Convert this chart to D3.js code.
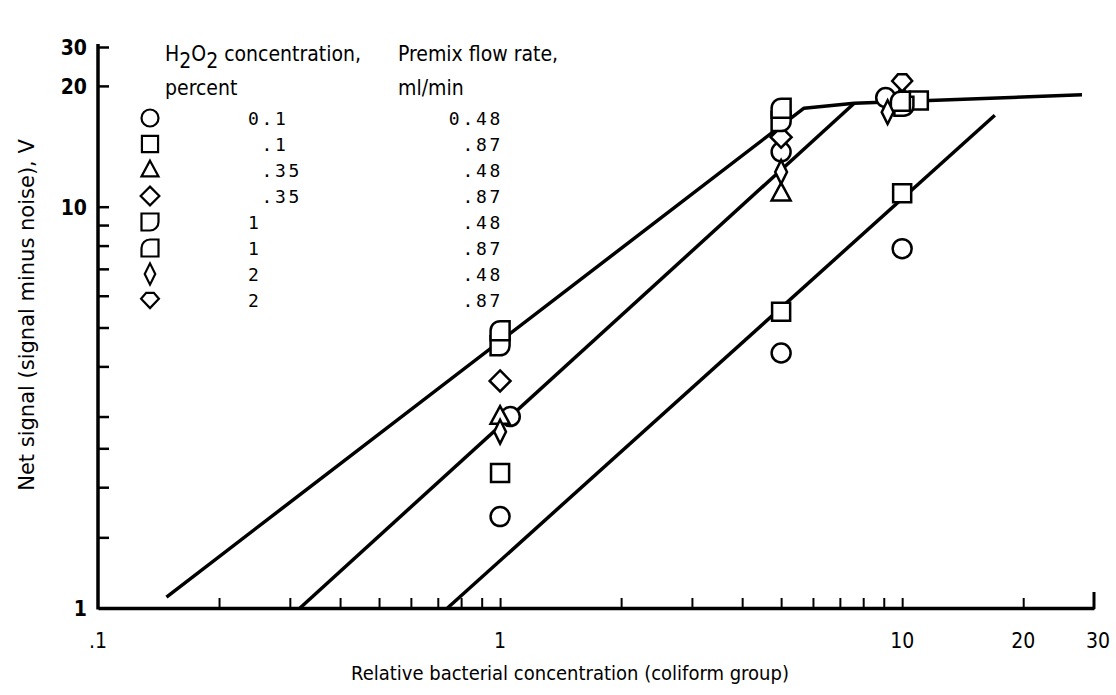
<!DOCTYPE html>
<html>
<head>
<meta charset="utf-8">
<script src="https://cdn.jsdelivr.net/npm/d3@7"></script>
<style>
body { margin: 0; background: #fff; }
</style>
</head>
<body>
<div id="chart-area"></div>
<script>
// legend rows: H2O2 concentration (percent) and premix flow rate (ml/min)
const concLabels = ["0.1", ".1", ".35", ".35", "1", "1", "2", "2"];
const flowLabels = ["0.48", ".87", ".48", ".87", ".48", ".87", ".48", ".87"];
const symbolNames = ["circle", "square", "triangle", "diamond", "dRight", "dLeft", "thinDiamond", "shield"];

// measured points [relative concentration, net signal V], one list per legend row
const circlePts = [[1.06, 3.0], [1.0, 1.69], [5.0, 13.7], [5.0, 4.32], [9.1, 18.7], [10, 7.86]];
const squarePts = [[1.0, 2.17], [5.0, 5.47], [10, 10.8], [11.0, 18.4]];
const trianglePts = [[1.0, 3.0], [5.0, 10.8], [10, 18.9]];
const diamondPts = [[1.0, 3.68], [5.0, 14.9]];
const dRightPts = [[1.0, 4.5], [5.0, 16.3], [10.1, 17.8]];
const dLeftPts = [[1.0, 4.91], [5.0, 17.6], [9.9, 18.3]];
const thinDiamondPts = [[1.0, 2.75], [5.0, 12.2], [9.2, 17.2]];
const shieldPts = [[10.0, 20.4]];
const seriesPoints = [circlePts, squarePts, trianglePts, diamondPts, dRightPts, dLeftPts, thinDiamondPts, shieldPts];

// faired curves
const lineA = [[0.148, 1.065], [5.7, 17.6], [7.6, 18.1], [28, 19.0]];
const lineB = [[0.318, 1.0], [7.6, 18.1]];
const lineC = [[0.74, 1.0], [17, 16.9]];

// axes
const xMinorTicks = [0.2, 0.3, 0.4, 0.5, 0.6, 0.7, 0.8, 0.9, 1, 2, 3, 4, 5, 6, 7, 8, 9, 10, 20];
const xLabelTicks = [0.1, 1, 10, 20, 30];
const xTickLabels = [".1", "1", "10", "20", "30"];
const yMinorTicks = [1.5, 2, 2.5, 3, 4, 5, 6, 7, 8, 9, 10, 20];
const yTop = 25; // the drawn axis stops here, its end tick is lettered "30"
const yLabelTicks = [1, 10, 20, yTop];
const yTickLabels = ["1", "10", "20", "30"];

const svgWidth = 1116, svgHeight = 695;

var svg = d3.select("#chart-area")
    .append("svg")
        .attr("width", svgWidth)
        .attr("height", svgHeight)
        .style("display", "block");

var x = d3.scaleLog().domain([0.1, 30]).range([98, 1094]);
var y = d3.scaleLog().domain([1, yTop]).range([608, 47]);

// x axis (ticks point up into the plot)
var xAxis = svg.append("g")
    .attr("transform", "translate(0," + y(1) + ")")
    .call(d3.axisBottom(x).tickValues(xMinorTicks).tickSizeInner(-10).tickSizeOuter(0).tickFormat(""));
xAxis.select(".domain").attr("stroke", "#000").attr("stroke-width", 3.5);
xAxis.selectAll(".tick line").attr("stroke", "#000").attr("stroke-width", 2);
// end tick at 30 is longer
xAxis.append("line")
    .attr("x1", x(30)).attr("x2", x(30))
    .attr("y1", 1).attr("y2", -16)
    .attr("stroke", "#000").attr("stroke-width", 3);

svg.append("g").selectAll("text")
    .data(xLabelTicks)
    .enter().append("text")
        .attr("x", function(d){ return x(d) + (d == 30 ? 4 : 0); })
        .attr("y", 648)
        .attr("text-anchor", "middle")
        .attr("font-family", "DejaVu Sans Condensed")
        .attr("font-size", "21px")
        .text(function(d, i){ return xTickLabels[i]; });

// y axis (ticks point right)
var yAxis = svg.append("g")
    .attr("transform", "translate(" + x(0.1) + ",0)")
    .call(d3.axisLeft(y).tickValues(yMinorTicks.concat([yTop])).tickSizeInner(-11).tickSizeOuter(0).tickFormat(""));
yAxis.select(".domain").attr("stroke", "#000").attr("stroke-width", 3.5)
    .attr("d", "M0," + (y(1) + 1.5) + "V" + (y(yTop) - 3));
yAxis.selectAll(".tick line").attr("stroke", "#000").attr("stroke-width", 2.5);

svg.append("g").selectAll("text")
    .data(yLabelTicks)
    .enter().append("text")
        .attr("x", 87)
        .attr("y", function(d){ return y(d) + 8; })
        .attr("text-anchor", "end")
        .attr("font-family", "DejaVu Sans Condensed")
        .attr("font-size", "21px")
        .attr("font-weight", "bold")
        .text(function(d, i){ return yTickLabels[i]; });

// axis titles
svg.append("text")
    .attr("x", 570)
    .attr("y", 680)
    .attr("text-anchor", "middle")
    .attr("font-family", "DejaVu Sans Condensed")
    .attr("font-size", "20px")
    .text("Relative bacterial concentration (coliform group)");

svg.append("text")
    .attr("transform", "translate(34,315) rotate(-90)")
    .attr("text-anchor", "middle")
    .attr("font-family", "DejaVu Sans")
    .attr("font-size", "21px")
    .text("Net signal (signal minus noise), V");

// curves
var line = d3.line()
    .x(function(d){ return x(d[0]); })
    .y(function(d){ return y(d[1]); });

[lineA, lineB, lineC].forEach(function(l){
    svg.append("path")
        .attr("d", line(l))
        .attr("fill", "none")
        .attr("stroke", "#000")
        .attr("stroke-width", 3.5)
        .attr("stroke-linejoin", "round");
});

// symbol shapes
function symbolPath(name, r) {
    switch (name) {
    case "circle":
        return "M" + r + ",0A" + r + "," + r + " 0 1 1 " + (-r) + ",0A" + r + "," + r + " 0 1 1 " + r + ",0Z";
    case "square":
        var s = r * 0.95;
        return "M" + (-s) + "," + (-s) + "H" + s + "V" + s + "H" + (-s) + "Z";
    case "triangle":
        return "M0," + (-r * 1.1) + "L" + r + "," + (r * 0.75) + "H" + (-r) + "Z";
    case "diamond":
        return "M0," + (-r * 1.1) + "L" + (r * 1.1) + ",0L0," + (r * 1.1) + "L" + (-r * 1.1) + ",0Z";
    case "dRight":
        return "M" + (-r) + "," + (-r) + "H" + r + "V0A" + r + "," + r + " 0 0 1 0," + r + "H" + (-r) + "Z";
    case "dLeft":
        return "M0," + (-r) + "H" + r + "V" + r + "H" + (-r) + "V0A" + r + "," + r + " 0 0 1 0," + (-r) + "Z";
    case "thinDiamond":
        return "M0," + (-r * 1.25) + "L" + (r * 0.62) + ",0L0," + (r * 1.25) + "L" + (-r * 0.62) + ",0Z";
    case "shield":
        return "M" + (-r * 1.05) + "," + (-r * 0.15) + "L" + (-r * 0.45) + "," + (-r * 0.85) +
            "H" + (r * 0.45) + "L" + (r * 1.05) + "," + (-r * 0.15) + "L0," + (r * 0.95) + "Z";
    }
}

// data points
seriesPoints.forEach(function(pts, i){
    svg.append("g").selectAll("path")
        .data(pts)
        .enter().append("path")
            .attr("transform", function(d){ return "translate(" + x(d[0]) + "," + y(d[1]) + ")"; })
            .attr("d", symbolPath(symbolNames[i], 9.5))
            .attr("fill", "#fff")
            .attr("stroke", "#000")
            .attr("stroke-width", 2.5);
});

// legend
var legend = svg.append("g")
    .attr("font-family", "DejaVu Sans Condensed")
    .attr("font-size", "21px");
var head = legend.append("text")
    .attr("x", 165).attr("y", 61);
head.append("tspan").text("H");
head.append("tspan").attr("dy", 7).text("2");
head.append("tspan").attr("dy", -7).text("O");
head.append("tspan").attr("dy", 7).text("2");
head.append("tspan").attr("dy", -7).text(" concentration,");

legend.append("text")
    .attr("x", 398).attr("y", 61)
    .text("Premix flow rate,");
legend.append("text")
    .attr("x", 165).attr("y", 95)
    .text("percent");
legend.append("text")
    .attr("x", 398).attr("y", 95)
    .text("ml/min");

var rowY = function(i){ return 118 + 26 * i; };
var cell = 13.5;

var rows = legend.selectAll(".row")
    .data(symbolNames)
    .enter().append("g")
        .attr("class", "row")
        .attr("transform", function(d, i){ return "translate(0," + rowY(i) + ")"; });

rows.append("path")
    .attr("transform", "translate(150,0)")
    .attr("d", function(d){ return symbolPath(d, 8.5); })
    .attr("fill", "#fff")
    .attr("stroke", "#000")
    .attr("stroke-width", 2.2);

rows.append("text")
    .attr("x", function(d, i){
        var s = concLabels[i], k = s.indexOf(".");
        if (k < 0) k = s.length;
        return 248 + (1 - k) * cell;
    })
    .attr("y", 7)
    .attr("font-family", "DejaVu Sans Mono")
    .attr("font-size", "18px")
    .attr("letter-spacing", "2.7px")
    .text(function(d, i){ return concLabels[i]; });

rows.append("text")
    .attr("x", 503)
    .attr("y", 7)
    .attr("text-anchor", "end")
    .attr("font-family", "DejaVu Sans Mono")
    .attr("font-size", "18px")
    .attr("letter-spacing", "2.7px")
    .text(function(d, i){ return flowLabels[i]; });
</script>
</body>
</html>
